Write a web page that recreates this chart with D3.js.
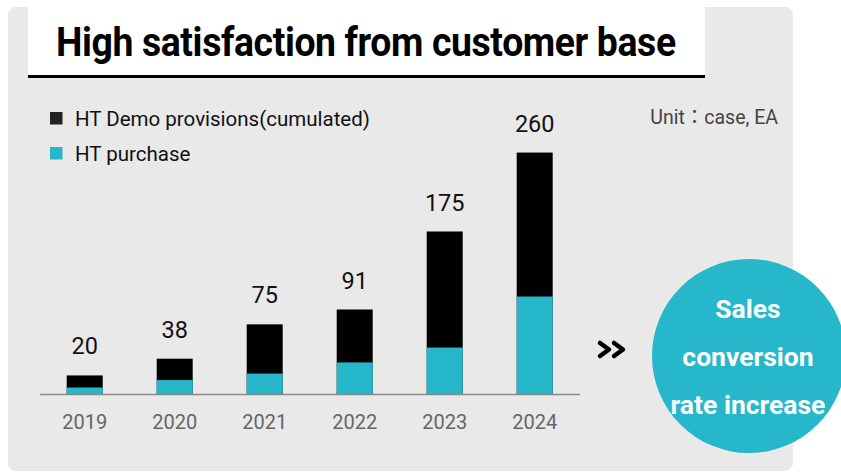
<!DOCTYPE html>
<html>
<head>
<meta charset="utf-8">
<script src="https://cdn.jsdelivr.net/npm/d3@7"></script>
<style>
  html, body { margin: 0; padding: 0; background: #ffffff; }
  svg { display: block; font-family: Roboto, "Noto Sans", sans-serif; }
</style>
</head>
<body>
<svg id="chart" width="841" height="473"></svg>
<script>
// Years shown on the axis
const years = ["2019", "2020", "2021", "2022", "2023", "2024"];
// HT demo provisions, cumulative (bar total, also the label above each bar)
const demoTotals = [20, 38, 75, 91, 175, 260];
// HT purchases (lower cyan segment)
const purchases = [7, 15, 22, 34, 50, 105];

const legendLabels = ["HT Demo provisions(cumulated)", "HT purchase"];
const titleText = "High satisfaction from customer base";
const unitText = "Unit\uFF1Acase, EA";
const badgeLines = ["Sales", "conversion", "rate increase"];

const colors = { demo: "#000000", purchase: "#27b7ca", legendDemo: "#222222" };

const svg = d3.select("#chart");

// background panel
svg.append("rect")
  .attr("x", 8).attr("y", 7).attr("width", 785).attr("height", 464)
  .attr("rx", 8).attr("fill", "#e9e9e9");

// title block
svg.append("rect")
  .attr("x", 28).attr("y", 0).attr("width", 677).attr("height", 75)
  .attr("fill", "#ffffff");
svg.append("line")
  .attr("x1", 28).attr("x2", 705).attr("y1", 76.5).attr("y2", 76.5)
  .attr("stroke", "#000").attr("stroke-width", 3);
const title = svg.append("text")
  .attr("x", 0).attr("y", 0)
  .attr("font-size", 40).attr("font-weight", 700).attr("fill", "#000")
  .attr("letter-spacing", -0.4)
  .text(titleText);
// condense the title horizontally so it spans the intended width
{
  const target = 620;
  const w = title.node().getComputedTextLength();
  title.attr("transform", `translate(56,56) scale(${(target / w).toFixed(4)},1)`);
}

// legend
const legend = svg.append("g");
legendLabels.forEach((lab, i) => {
  const y = 112 + i * 35;
  legend.append("rect")
    .attr("x", 50).attr("y", y).attr("width", 12.5).attr("height", 12.5)
    .attr("fill", i === 0 ? colors.legendDemo : colors.purchase);
  legend.append("text")
    .attr("x", 75).attr("y", y + 13.5)
    .attr("font-size", 20.5).attr("fill", "#111")
    .text(lab);
});

// unit note
svg.append("text")
  .attr("x", 778).attr("y", 124)
  .attr("text-anchor", "end")
  .attr("font-size", 19.5).attr("fill", "#444")
  .attr("font-family", "Roboto, 'Noto Sans CJK KR', sans-serif")
  .text(unitText);

// scales
const baseline = 394;
const x = d3.scaleBand()
  .domain(years)
  .range([39.7, 579.7])
  .paddingInner(0.6)
  .paddingOuter(0.3);
const y = d3.scaleLinear()
  .domain([0, 280])
  .range([baseline, 134]);

const rows = years.map((yr, i) => ({ year: yr, total: demoTotals[i], purchase: purchases[i] }));

// demo (full bar)
svg.append("g").selectAll("rect")
  .data(rows).join("rect")
  .attr("x", d => x(d.year))
  .attr("width", x.bandwidth())
  .attr("y", d => y(d.total))
  .attr("height", d => y(0) - y(d.total))
  .attr("fill", colors.demo);

// purchase segment
svg.append("g").selectAll("rect")
  .data(rows).join("rect")
  .attr("x", d => x(d.year))
  .attr("width", x.bandwidth())
  .attr("y", d => y(d.purchase))
  .attr("height", d => y(0) - y(d.purchase))
  .attr("fill", colors.purchase);

// value labels
svg.append("g").selectAll("text")
  .data(rows).join("text")
  .attr("x", d => x(d.year) + x.bandwidth() / 2)
  .attr("y", d => y(d.total) - 21)
  .attr("text-anchor", "middle")
  .attr("font-size", 23.5).attr("fill", "#111")
  .text(d => d.total);

// x axis
const axis = svg.append("g")
  .attr("transform", `translate(0,${baseline})`)
  .call(d3.axisBottom(x).tickSize(0).tickSizeOuter(0).tickPadding(21));
axis.select(".domain").attr("stroke", "#8a8a8a").attr("stroke-width", 1.5);
axis.selectAll(".tick text")
  .attr("font-size", 20).attr("fill", "#666")
  .attr("font-family", "Roboto, sans-serif");

// double chevron
const chev = svg.append("g")
  .attr("fill", "none").attr("stroke", "#000")
  .attr("stroke-width", 4.5).attr("stroke-linecap", "round").attr("stroke-linejoin", "round");
[600, 614].forEach(cx => {
  chev.append("path").attr("d", `M${cx},343 L${cx + 9},349.5 L${cx},356`);
});

// highlight badge
svg.append("circle")
  .attr("cx", 749).attr("cy", 356).attr("r", 97)
  .attr("fill", colors.purchase);
svg.append("g").selectAll("text")
  .data(badgeLines).join("text")
  .attr("x", 748)
  .attr("y", (d, i) => 318 + i * 48)
  .attr("text-anchor", "middle")
  .attr("font-size", 26.5).attr("font-weight", 700).attr("fill", "#ffffff")
  .text(d => d);
</script>
</body>
</html>
